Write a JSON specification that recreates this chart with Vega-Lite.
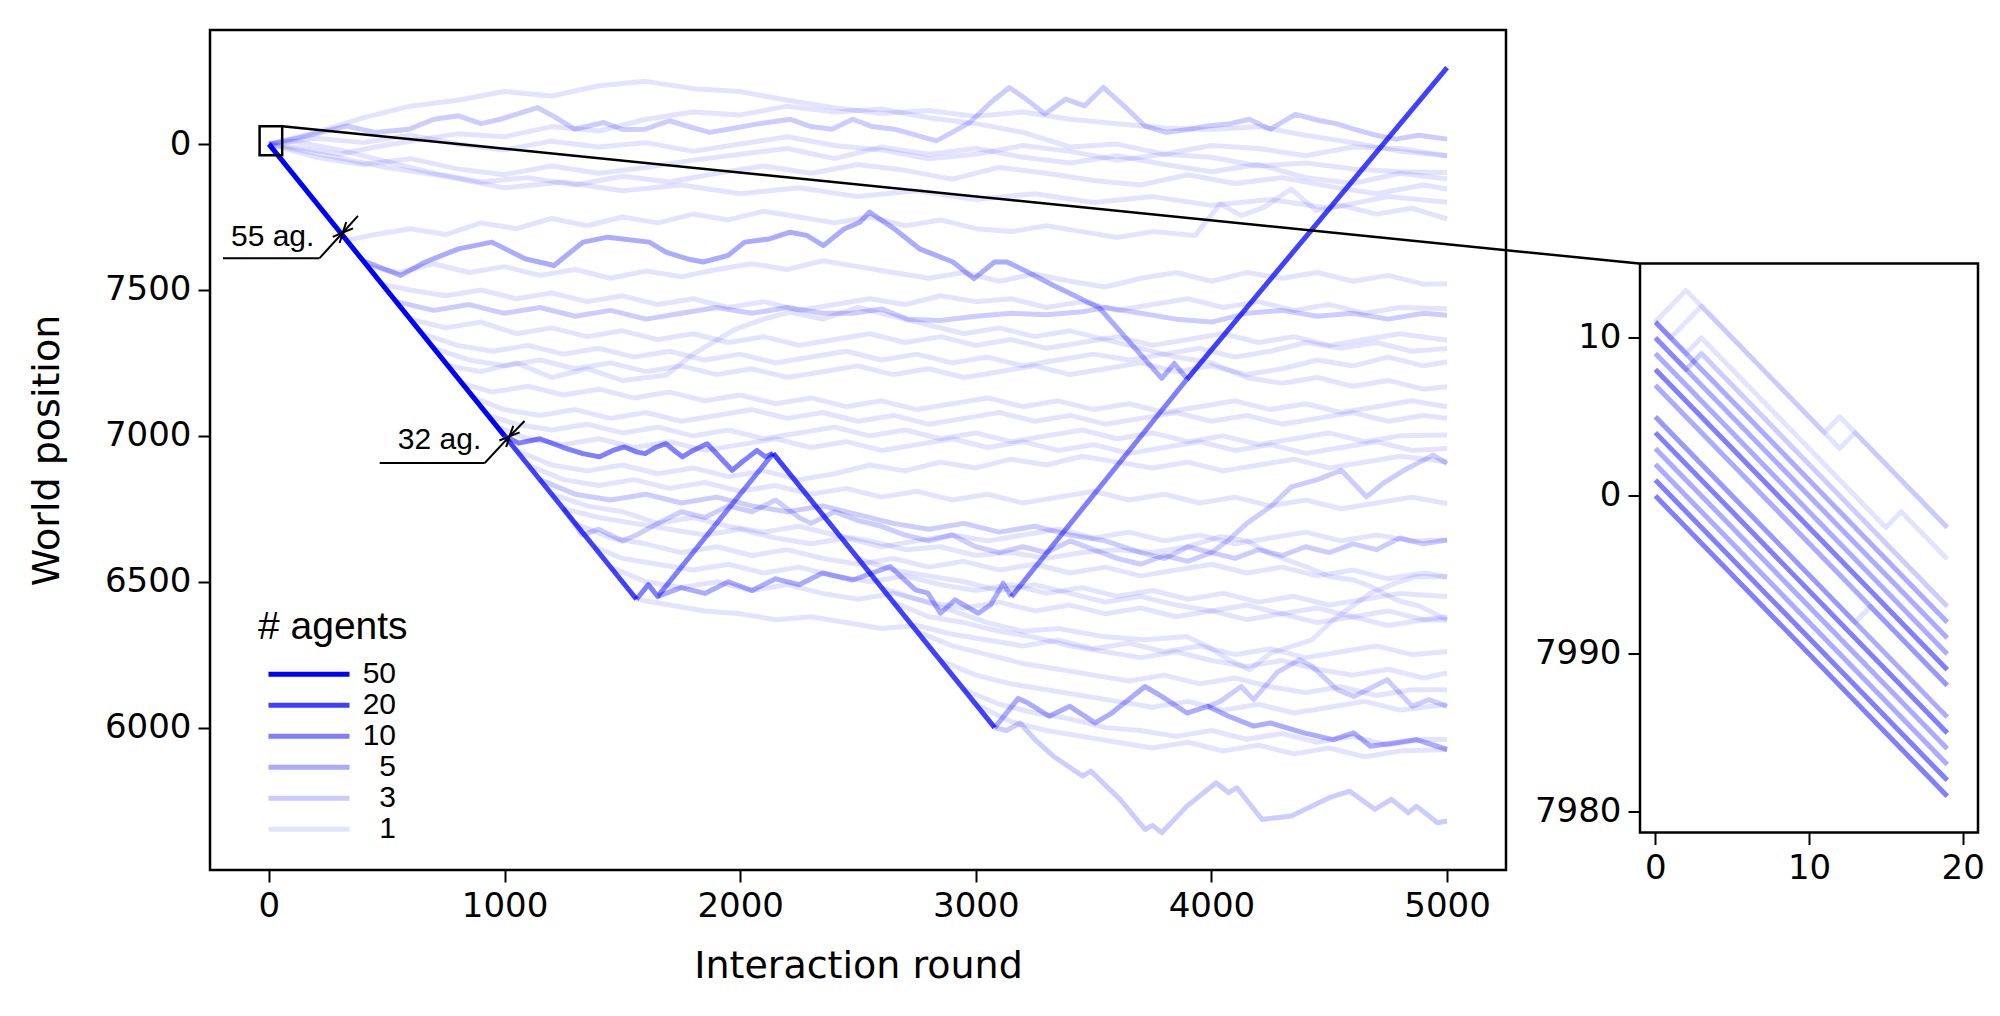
{
"$schema":"https://vega.github.io/schema/vega-lite/v6.json",
"background":"white",
"padding":{"left":27,"top":28,"right":5,"bottom":5},
"autosize":{"type":"pad"},
"bounds":"flush",
"spacing":134,
"config":{
 "font":"DejaVu Sans",
 "view":{"stroke":"black","strokeWidth":2.5},
 "axis":{"labelFont":"DejaVu Sans","titleFont":"DejaVu Sans","labelFontSize":34,"titleFontSize":38,"titleFontWeight":"normal","labelColor":"black","titleColor":"black","tickColor":"black","tickSize":12,"tickWidth":2,"domain":false,"grid":false,"labelPadding":7},
 "line":{"color":"#0000ff","strokeWidth":5,"strokeJoin":"round","strokeCap":"butt"}
},
"resolve":{"scale":{"opacity":"independent"},"legend":{"opacity":"independent"}},
"datasets":{
"main":[
{"i":"M1","n":50,"x":0,"y":8000},{"i":"M1","n":50,"x":1000,"y":7000},
{"i":"M2","n":20,"x":1000,"y":7000},{"i":"M2","n":20,"x":1560,"y":6440},
{"i":"M3","n":10,"x":1560,"y":6440},{"i":"M3","n":10,"x":1610,"y":6490},{"i":"M3","n":10,"x":1650,"y":6450},{"i":"M3","n":10,"x":2140,"y":6940},
{"i":"M4","n":10,"x":1000,"y":7000},{"i":"M4","n":10,"x":1060,"y":6975},{"i":"M4","n":10,"x":1150,"y":6990},{"i":"M4","n":10,"x":1250,"y":6960},{"i":"M4","n":10,"x":1333,"y":6939},{"i":"M4","n":10,"x":1403,"y":6928},{"i":"M4","n":10,"x":1460,"y":6950},{"i":"M4","n":10,"x":1509,"y":6962},{"i":"M4","n":10,"x":1560,"y":6945},{"i":"M4","n":10,"x":1597,"y":6939},{"i":"M4","n":10,"x":1640,"y":6960},{"i":"M4","n":10,"x":1685,"y":6973},{"i":"M4","n":10,"x":1720,"y":6950},{"i":"M4","n":10,"x":1755,"y":6928},{"i":"M4","n":10,"x":1800,"y":6950},{"i":"M4","n":10,"x":1860,"y":6973},{"i":"M4","n":10,"x":1910,"y":6930},{"i":"M4","n":10,"x":1966,"y":6882},{"i":"M4","n":10,"x":2000,"y":6905},{"i":"M4","n":10,"x":2036,"y":6928},{"i":"M4","n":10,"x":2071,"y":6950},{"i":"M4","n":10,"x":2107,"y":6928},{"i":"M4","n":10,"x":2140,"y":6940},
{"i":"M5","n":20,"x":2140,"y":6940},{"i":"M5","n":20,"x":3080,"y":6000},
{"i":"M6","n":5,"x":3080,"y":6000},{"i":"M6","n":5,"x":3180,"y":6100},{"i":"M6","n":5,"x":3222,"y":6084},{"i":"M6","n":5,"x":3311,"y":6039},{"i":"M6","n":5,"x":3399,"y":6073},{"i":"M6","n":5,"x":3506,"y":6016},{"i":"M6","n":5,"x":3577,"y":6050},{"i":"M6","n":5,"x":3718,"y":6141},{"i":"M6","n":5,"x":3789,"y":6107},{"i":"M6","n":5,"x":3896,"y":6050},{"i":"M6","n":5,"x":3984,"y":6073},{"i":"M6","n":5,"x":4073,"y":6039},{"i":"M6","n":5,"x":4179,"y":6005},{"i":"M6","n":5,"x":4250,"y":6016},{"i":"M6","n":5,"x":4392,"y":5982},{"i":"M6","n":5,"x":4516,"y":5959},{"i":"M6","n":5,"x":4604,"y":5982},{"i":"M6","n":5,"x":4675,"y":5936},{"i":"M6","n":5,"x":4782,"y":5948},{"i":"M6","n":5,"x":4870,"y":5959},{"i":"M6","n":5,"x":5000,"y":5925},
{"i":"M7","n":3,"x":3984,"y":6073},{"i":"M7","n":3,"x":4037,"y":6090},{"i":"M7","n":3,"x":4126,"y":6141},{"i":"M7","n":3,"x":4179,"y":6096},{"i":"M7","n":3,"x":4280,"y":6190},{"i":"M7","n":3,"x":4374,"y":6233},{"i":"M7","n":3,"x":4427,"y":6210},{"i":"M7","n":3,"x":4534,"y":6130},{"i":"M7","n":3,"x":4604,"y":6107},{"i":"M7","n":3,"x":4746,"y":6164},{"i":"M7","n":3,"x":4852,"y":6073},{"i":"M7","n":3,"x":4923,"y":6096},{"i":"M7","n":3,"x":5000,"y":6073},
{"i":"E","n":3,"x":3080,"y":6000},{"i":"E","n":3,"x":3130,"y":5990},{"i":"E","n":3,"x":3187,"y":6016},{"i":"E","n":3,"x":3250,"y":5960},{"i":"E","n":3,"x":3329,"y":5902},{"i":"E","n":3,"x":3453,"y":5834},{"i":"E","n":3,"x":3488,"y":5851},{"i":"E","n":3,"x":3612,"y":5754},{"i":"E","n":3,"x":3718,"y":5651},{"i":"E","n":3,"x":3750,"y":5665},{"i":"E","n":3,"x":3789,"y":5640},{"i":"E","n":3,"x":3896,"y":5731},{"i":"E","n":3,"x":4020,"y":5811},{"i":"E","n":3,"x":4073,"y":5777},{"i":"E","n":3,"x":4108,"y":5794},{"i":"E","n":3,"x":4215,"y":5685},{"i":"E","n":3,"x":4339,"y":5697},{"i":"E","n":3,"x":4427,"y":5731},{"i":"E","n":3,"x":4500,"y":5760},{"i":"E","n":3,"x":4587,"y":5782},{"i":"E","n":3,"x":4693,"y":5720},{"i":"E","n":3,"x":4764,"y":5754},{"i":"E","n":3,"x":4835,"y":5708},{"i":"E","n":3,"x":4870,"y":5731},{"i":"E","n":3,"x":4959,"y":5674},{"i":"E","n":3,"x":5000,"y":5680},
{"i":"L3","n":5,"x":400,"y":7600},{"i":"L3","n":5,"x":559,"y":7550},{"i":"L3","n":5,"x":664,"y":7596},{"i":"L3","n":5,"x":805,"y":7641},{"i":"L3","n":5,"x":946,"y":7664},{"i":"L3","n":5,"x":1087,"y":7607},{"i":"L3","n":5,"x":1210,"y":7584},{"i":"L3","n":5,"x":1245,"y":7607},{"i":"L3","n":5,"x":1333,"y":7664},{"i":"L3","n":5,"x":1438,"y":7681},{"i":"L3","n":5,"x":1614,"y":7664},{"i":"L3","n":5,"x":1685,"y":7630},{"i":"L3","n":5,"x":1773,"y":7607},{"i":"L3","n":5,"x":1843,"y":7596},{"i":"L3","n":5,"x":1948,"y":7618},{"i":"L3","n":5,"x":2019,"y":7664},{"i":"L3","n":5,"x":2124,"y":7675},{"i":"L3","n":5,"x":2212,"y":7698},{"i":"L3","n":5,"x":2283,"y":7687},{"i":"L3","n":5,"x":2353,"y":7652},{"i":"L3","n":5,"x":2441,"y":7709},{"i":"L3","n":5,"x":2508,"y":7732},{"i":"L3","n":5,"x":2549,"y":7767},{"i":"L3","n":5,"x":2655,"y":7709},{"i":"L3","n":5,"x":2761,"y":7641},{"i":"L3","n":5,"x":2903,"y":7596},{"i":"L3","n":5,"x":2992,"y":7539},{"i":"L3","n":5,"x":3080,"y":7596},{"i":"L3","n":5,"x":3133,"y":7596},{"i":"L3","n":5,"x":3222,"y":7561},{"i":"L3","n":5,"x":3328,"y":7516},{"i":"L3","n":5,"x":3505,"y":7447},{"i":"L3","n":5,"x":3523,"y":7440},{"i":"L3","n":5,"x":3789,"y":7197},{"i":"L3","n":5,"x":3842,"y":7248},{"i":"L3","n":5,"x":3895,"y":7197},
{"i":"L4","n":5,"x":1650,"y":6450},{"i":"L4","n":5,"x":1750,"y":6480},{"i":"L4","n":5,"x":1850,"y":6460},{"i":"L4","n":5,"x":1950,"y":6500},{"i":"L4","n":5,"x":2050,"y":6470},{"i":"L4","n":5,"x":2150,"y":6510},{"i":"L4","n":5,"x":2250,"y":6490},{"i":"L4","n":5,"x":2350,"y":6530},{"i":"L4","n":5,"x":2478,"y":6506},{"i":"L4","n":5,"x":2637,"y":6552},{"i":"L4","n":5,"x":2744,"y":6472},{"i":"L4","n":5,"x":2797,"y":6461},{"i":"L4","n":5,"x":2850,"y":6392},{"i":"L4","n":5,"x":2912,"y":6438},{"i":"L4","n":5,"x":3010,"y":6392},{"i":"L4","n":5,"x":3063,"y":6421},{"i":"L4","n":5,"x":3116,"y":6495},{"i":"L4","n":5,"x":3151,"y":6449},
{"i":"U1","n":10,"x":3151,"y":6449},{"i":"U1","n":10,"x":3895,"y":7193},
{"i":"U2","n":20,"x":3895,"y":7193},{"i":"U2","n":20,"x":5000,"y":8262},
{"i":"T1","n":3,"x":0,"y":8000},{"i":"T1","n":3,"x":120,"y":8020},{"i":"T1","n":3,"x":330,"y":8062},{"i":"T1","n":3,"x":450,"y":8040},{"i":"T1","n":3,"x":594,"y":8051},{"i":"T1","n":3,"x":700,"y":8085},{"i":"T1","n":3,"x":805,"y":8097},{"i":"T1","n":3,"x":900,"y":8070},{"i":"T1","n":3,"x":981,"y":8085},{"i":"T1","n":3,"x":1140,"y":8125},{"i":"T1","n":3,"x":1220,"y":8090},{"i":"T1","n":3,"x":1298,"y":8051},{"i":"T1","n":3,"x":1421,"y":8074},{"i":"T1","n":3,"x":1500,"y":8050},{"i":"T1","n":3,"x":1597,"y":8051},{"i":"T1","n":3,"x":1700,"y":8080},{"i":"T1","n":3,"x":1773,"y":8062},{"i":"T1","n":3,"x":1870,"y":8040},{"i":"T1","n":3,"x":1949,"y":8051},{"i":"T1","n":3,"x":2080,"y":8070},{"i":"T1","n":3,"x":2213,"y":8085},{"i":"T1","n":3,"x":2300,"y":8060},{"i":"T1","n":3,"x":2389,"y":8051},{"i":"T1","n":3,"x":2478,"y":8085},{"i":"T1","n":3,"x":2560,"y":8060},{"i":"T1","n":3,"x":2655,"y":8051},{"i":"T1","n":3,"x":2750,"y":8030},{"i":"T1","n":3,"x":2832,"y":8011},{"i":"T1","n":3,"x":2900,"y":8040},{"i":"T1","n":3,"x":2974,"y":8074},{"i":"T1","n":3,"x":3060,"y":8140},{"i":"T1","n":3,"x":3142,"y":8194},{"i":"T1","n":3,"x":3220,"y":8150},{"i":"T1","n":3,"x":3293,"y":8103},{"i":"T1","n":3,"x":3382,"y":8154},{"i":"T1","n":3,"x":3461,"y":8131},{"i":"T1","n":3,"x":3541,"y":8194},{"i":"T1","n":3,"x":3630,"y":8130},{"i":"T1","n":3,"x":3718,"y":8062},{"i":"T1","n":3,"x":3807,"y":8040},{"i":"T1","n":3,"x":3900,"y":8050},{"i":"T1","n":3,"x":3984,"y":8062},{"i":"T1","n":3,"x":4080,"y":8070},{"i":"T1","n":3,"x":4161,"y":8085},{"i":"T1","n":3,"x":4250,"y":8051},{"i":"T1","n":3,"x":4356,"y":8102},{"i":"T1","n":3,"x":4462,"y":8080},{"i":"T1","n":3,"x":4530,"y":8070},{"i":"T1","n":3,"x":4604,"y":8051},{"i":"T1","n":3,"x":4700,"y":8030},{"i":"T1","n":3,"x":4782,"y":8017},{"i":"T1","n":3,"x":4880,"y":8030},{"i":"T1","n":3,"x":5000,"y":8017},
{"i":"T2","n":1,"x":0,"y":8000},{"i":"T2","n":1,"x":200,"y":8040},{"i":"T2","n":1,"x":400,"y":8090},{"i":"T2","n":1,"x":600,"y":8130},{"i":"T2","n":1,"x":800,"y":8150},{"i":"T2","n":1,"x":1000,"y":8180},{"i":"T2","n":1,"x":1200,"y":8165},{"i":"T2","n":1,"x":1400,"y":8200},{"i":"T2","n":1,"x":1600,"y":8215},{"i":"T2","n":1,"x":1800,"y":8190},{"i":"T2","n":1,"x":2000,"y":8180},{"i":"T2","n":1,"x":2200,"y":8150},{"i":"T2","n":1,"x":2400,"y":8125},{"i":"T2","n":1,"x":2600,"y":8105},{"i":"T2","n":1,"x":2800,"y":8115},{"i":"T2","n":1,"x":3000,"y":8095},{"i":"T2","n":1,"x":3200,"y":8110},{"i":"T2","n":1,"x":3400,"y":8085},{"i":"T2","n":1,"x":3600,"y":8070},{"i":"T2","n":1,"x":3800,"y":8055},{"i":"T2","n":1,"x":4000,"y":8050},{"i":"T2","n":1,"x":4200,"y":8060},{"i":"T2","n":1,"x":4400,"y":8030},{"i":"T2","n":1,"x":4600,"y":8005},{"i":"T2","n":1,"x":4800,"y":7975},{"i":"T2","n":1,"x":5000,"y":7960},
{"i":"T3","n":1,"x":0,"y":8000},{"i":"T3","n":1,"x":150,"y":7985},{"i":"T3","n":1,"x":300,"y":7965},{"i":"T3","n":1,"x":450,"y":7990},{"i":"T3","n":1,"x":600,"y":8010},{"i":"T3","n":1,"x":800,"y":8035},{"i":"T3","n":1,"x":1000,"y":8025},{"i":"T3","n":1,"x":1200,"y":8060},{"i":"T3","n":1,"x":1400,"y":8045},{"i":"T3","n":1,"x":1600,"y":8085},{"i":"T3","n":1,"x":1800,"y":8110},{"i":"T3","n":1,"x":2000,"y":8100},{"i":"T3","n":1,"x":2200,"y":8130},{"i":"T3","n":1,"x":2400,"y":8110},{"i":"T3","n":1,"x":2600,"y":8120},{"i":"T3","n":1,"x":2800,"y":8090},{"i":"T3","n":1,"x":3000,"y":8070},{"i":"T3","n":1,"x":3200,"y":8040},{"i":"T3","n":1,"x":3400,"y":7990},{"i":"T3","n":1,"x":3600,"y":8000},{"i":"T3","n":1,"x":3800,"y":7965},{"i":"T3","n":1,"x":4000,"y":7955},{"i":"T3","n":1,"x":4200,"y":7925},{"i":"T3","n":1,"x":4400,"y":7935},{"i":"T3","n":1,"x":4600,"y":7915},{"i":"T3","n":1,"x":4800,"y":7905},{"i":"T3","n":1,"x":5000,"y":7903},
{"i":"T4","n":1,"x":0,"y":8000},{"i":"T4","n":1,"x":200,"y":7955},{"i":"T4","n":1,"x":400,"y":7930},{"i":"T4","n":1,"x":600,"y":7950},{"i":"T4","n":1,"x":800,"y":7915},{"i":"T4","n":1,"x":1000,"y":7895},{"i":"T4","n":1,"x":1200,"y":7925},{"i":"T4","n":1,"x":1400,"y":7900},{"i":"T4","n":1,"x":1600,"y":7920},{"i":"T4","n":1,"x":1800,"y":7945},{"i":"T4","n":1,"x":2000,"y":7965},{"i":"T4","n":1,"x":2200,"y":7985},{"i":"T4","n":1,"x":2400,"y":7950},{"i":"T4","n":1,"x":2600,"y":7990},{"i":"T4","n":1,"x":2800,"y":7965},{"i":"T4","n":1,"x":3000,"y":7985},{"i":"T4","n":1,"x":3200,"y":7955},{"i":"T4","n":1,"x":3400,"y":7935},{"i":"T4","n":1,"x":3600,"y":7960},{"i":"T4","n":1,"x":3800,"y":7930},{"i":"T4","n":1,"x":4000,"y":7905},{"i":"T4","n":1,"x":4200,"y":7930},{"i":"T4","n":1,"x":4400,"y":7885},{"i":"T4","n":1,"x":4600,"y":7865},{"i":"T4","n":1,"x":4800,"y":7900},{"i":"T4","n":1,"x":5000,"y":7880},
{"i":"T5","n":1,"x":0,"y":8000},{"i":"T5","n":1,"x":100,"y":8010},{"i":"T5","n":1,"x":300,"y":7980},{"i":"T5","n":1,"x":500,"y":7940},{"i":"T5","n":1,"x":700,"y":7900},{"i":"T5","n":1,"x":900,"y":7870},{"i":"T5","n":1,"x":1100,"y":7885},{"i":"T5","n":1,"x":1300,"y":7860},{"i":"T5","n":1,"x":1500,"y":7890},{"i":"T5","n":1,"x":1700,"y":7870},{"i":"T5","n":1,"x":1900,"y":7900},{"i":"T5","n":1,"x":2100,"y":7925},{"i":"T5","n":1,"x":2300,"y":7900},{"i":"T5","n":1,"x":2500,"y":7930},{"i":"T5","n":1,"x":2700,"y":7910},{"i":"T5","n":1,"x":2900,"y":7880},{"i":"T5","n":1,"x":3100,"y":7920},{"i":"T5","n":1,"x":3300,"y":7900},{"i":"T5","n":1,"x":3500,"y":7875},{"i":"T5","n":1,"x":3700,"y":7860},{"i":"T5","n":1,"x":3900,"y":7895},{"i":"T5","n":1,"x":4100,"y":7865},{"i":"T5","n":1,"x":4300,"y":7885},{"i":"T5","n":1,"x":4500,"y":7855},{"i":"T5","n":1,"x":4700,"y":7830},{"i":"T5","n":1,"x":4900,"y":7860},{"i":"T5","n":1,"x":5000,"y":7846},
{"i":"T6","n":1,"x":0,"y":8000},{"i":"T6","n":1,"x":200,"y":8020},{"i":"T6","n":1,"x":400,"y":8005},{"i":"T6","n":1,"x":600,"y":8030},{"i":"T6","n":1,"x":800,"y":8000},{"i":"T6","n":1,"x":1000,"y":7980},{"i":"T6","n":1,"x":1200,"y":8010},{"i":"T6","n":1,"x":1400,"y":7990},{"i":"T6","n":1,"x":1600,"y":8005},{"i":"T6","n":1,"x":1800,"y":7975},{"i":"T6","n":1,"x":2000,"y":8000},{"i":"T6","n":1,"x":2200,"y":8025},{"i":"T6","n":1,"x":2400,"y":7995},{"i":"T6","n":1,"x":2600,"y":7980},{"i":"T6","n":1,"x":2800,"y":7950},{"i":"T6","n":1,"x":3000,"y":7965},{"i":"T6","n":1,"x":3200,"y":7995},{"i":"T6","n":1,"x":3400,"y":7975},{"i":"T6","n":1,"x":3600,"y":7945},{"i":"T6","n":1,"x":3800,"y":7965},{"i":"T6","n":1,"x":4000,"y":7995},{"i":"T6","n":1,"x":4200,"y":7985},{"i":"T6","n":1,"x":4400,"y":7960},{"i":"T6","n":1,"x":4600,"y":7990},{"i":"T6","n":1,"x":4800,"y":7985},{"i":"T6","n":1,"x":5000,"y":7960},
{"i":"T7","n":1,"x":0,"y":8000},{"i":"T7","n":1,"x":250,"y":7960},{"i":"T7","n":1,"x":500,"y":7920},{"i":"T7","n":1,"x":750,"y":7890},{"i":"T7","n":1,"x":1000,"y":7850},{"i":"T7","n":1,"x":1250,"y":7870},{"i":"T7","n":1,"x":1500,"y":7840},{"i":"T7","n":1,"x":1750,"y":7860},{"i":"T7","n":1,"x":2000,"y":7830},{"i":"T7","n":1,"x":2250,"y":7850},{"i":"T7","n":1,"x":2500,"y":7820},{"i":"T7","n":1,"x":2750,"y":7840},{"i":"T7","n":1,"x":3000,"y":7810},{"i":"T7","n":1,"x":3250,"y":7830},{"i":"T7","n":1,"x":3500,"y":7800},{"i":"T7","n":1,"x":3750,"y":7820},{"i":"T7","n":1,"x":4000,"y":7790},{"i":"T7","n":1,"x":4250,"y":7810},{"i":"T7","n":1,"x":4500,"y":7780},{"i":"T7","n":1,"x":4750,"y":7820},{"i":"T7","n":1,"x":5000,"y":7801},
{"i":"B1","n":1,"x":330,"y":7670},{"i":"B1","n":1,"x":450,"y":7690},{"i":"B1","n":1,"x":600,"y":7710},{"i":"B1","n":1,"x":750,"y":7690},{"i":"B1","n":1,"x":900,"y":7730},{"i":"B1","n":1,"x":1050,"y":7710},{"i":"B1","n":1,"x":1200,"y":7745},{"i":"B1","n":1,"x":1350,"y":7720},{"i":"B1","n":1,"x":1500,"y":7750},{"i":"B1","n":1,"x":1650,"y":7730},{"i":"B1","n":1,"x":1800,"y":7760},{"i":"B1","n":1,"x":1950,"y":7740},{"i":"B1","n":1,"x":2100,"y":7770},{"i":"B1","n":1,"x":2250,"y":7750},{"i":"B1","n":1,"x":2400,"y":7730},{"i":"B1","n":1,"x":2550,"y":7750},{"i":"B1","n":1,"x":2700,"y":7720},{"i":"B1","n":1,"x":2850,"y":7740},{"i":"B1","n":1,"x":3000,"y":7710},{"i":"B1","n":1,"x":3150,"y":7700},{"i":"B1","n":1,"x":3300,"y":7720},{"i":"B1","n":1,"x":3450,"y":7700},{"i":"B1","n":1,"x":3600,"y":7680},{"i":"B1","n":1,"x":3750,"y":7700},{"i":"B1","n":1,"x":3931,"y":7687},{"i":"B1","n":1,"x":4037,"y":7795},{"i":"B1","n":1,"x":4126,"y":7755},{"i":"B1","n":1,"x":4223,"y":7783},{"i":"B1","n":1,"x":4338,"y":7846},{"i":"B1","n":1,"x":4445,"y":7772},{"i":"B1","n":1,"x":4550,"y":7790},{"i":"B1","n":1,"x":4700,"y":7760},{"i":"B1","n":1,"x":4850,"y":7780},{"i":"B1","n":1,"x":5000,"y":7744},
{"i":"B2","n":1,"x":420,"y":7580},{"i":"B2","n":1,"x":550,"y":7560},{"i":"B2","n":1,"x":700,"y":7590},{"i":"B2","n":1,"x":850,"y":7560},{"i":"B2","n":1,"x":1000,"y":7580},{"i":"B2","n":1,"x":1150,"y":7550},{"i":"B2","n":1,"x":1300,"y":7570},{"i":"B2","n":1,"x":1450,"y":7540},{"i":"B2","n":1,"x":1600,"y":7565},{"i":"B2","n":1,"x":1750,"y":7545},{"i":"B2","n":1,"x":1900,"y":7570},{"i":"B2","n":1,"x":2050,"y":7590},{"i":"B2","n":1,"x":2200,"y":7570},{"i":"B2","n":1,"x":2350,"y":7600},{"i":"B2","n":1,"x":2500,"y":7580},{"i":"B2","n":1,"x":2650,"y":7560},{"i":"B2","n":1,"x":2800,"y":7540},{"i":"B2","n":1,"x":2950,"y":7560},{"i":"B2","n":1,"x":3100,"y":7530},{"i":"B2","n":1,"x":3250,"y":7555},{"i":"B2","n":1,"x":3400,"y":7530},{"i":"B2","n":1,"x":3550,"y":7510},{"i":"B2","n":1,"x":3700,"y":7540},{"i":"B2","n":1,"x":3850,"y":7560},{"i":"B2","n":1,"x":4000,"y":7530},{"i":"B2","n":1,"x":4150,"y":7560},{"i":"B2","n":1,"x":4300,"y":7540},{"i":"B2","n":1,"x":4450,"y":7560},{"i":"B2","n":1,"x":4600,"y":7530},{"i":"B2","n":1,"x":4750,"y":7550},{"i":"B2","n":1,"x":4900,"y":7520},{"i":"B2","n":1,"x":5000,"y":7521},
{"i":"B3","n":1,"x":480,"y":7520},{"i":"B3","n":1,"x":600,"y":7500},{"i":"B3","n":1,"x":750,"y":7480},{"i":"B3","n":1,"x":900,"y":7500},{"i":"B3","n":1,"x":1050,"y":7470},{"i":"B3","n":1,"x":1200,"y":7490},{"i":"B3","n":1,"x":1350,"y":7460},{"i":"B3","n":1,"x":1500,"y":7480},{"i":"B3","n":1,"x":1650,"y":7450},{"i":"B3","n":1,"x":1800,"y":7470},{"i":"B3","n":1,"x":1950,"y":7440},{"i":"B3","n":1,"x":2100,"y":7460},{"i":"B3","n":1,"x":2250,"y":7430},{"i":"B3","n":1,"x":2400,"y":7450},{"i":"B3","n":1,"x":2550,"y":7470},{"i":"B3","n":1,"x":2700,"y":7450},{"i":"B3","n":1,"x":2850,"y":7480},{"i":"B3","n":1,"x":3000,"y":7460},{"i":"B3","n":1,"x":3150,"y":7470},{"i":"B3","n":1,"x":3300,"y":7440},{"i":"B3","n":1,"x":3450,"y":7460},{"i":"B3","n":1,"x":3600,"y":7430},{"i":"B3","n":1,"x":3750,"y":7450},{"i":"B3","n":1,"x":3900,"y":7470},{"i":"B3","n":1,"x":4050,"y":7440},{"i":"B3","n":1,"x":4200,"y":7460},{"i":"B3","n":1,"x":4350,"y":7430},{"i":"B3","n":1,"x":4500,"y":7450},{"i":"B3","n":1,"x":4650,"y":7420},{"i":"B3","n":1,"x":4800,"y":7440},{"i":"B3","n":1,"x":5000,"y":7436},
{"i":"B4","n":3,"x":540,"y":7460},{"i":"B4","n":3,"x":700,"y":7430},{"i":"B4","n":3,"x":850,"y":7450},{"i":"B4","n":3,"x":1000,"y":7420},{"i":"B4","n":3,"x":1150,"y":7440},{"i":"B4","n":3,"x":1300,"y":7410},{"i":"B4","n":3,"x":1450,"y":7430},{"i":"B4","n":3,"x":1600,"y":7400},{"i":"B4","n":3,"x":1750,"y":7420},{"i":"B4","n":3,"x":1900,"y":7440},{"i":"B4","n":3,"x":2050,"y":7420},{"i":"B4","n":3,"x":2200,"y":7440},{"i":"B4","n":3,"x":2350,"y":7420},{"i":"B4","n":3,"x":2478,"y":7420},{"i":"B4","n":3,"x":2600,"y":7435},{"i":"B4","n":3,"x":2710,"y":7400},{"i":"B4","n":3,"x":2850,"y":7395},{"i":"B4","n":3,"x":3000,"y":7410},{"i":"B4","n":3,"x":3150,"y":7420},{"i":"B4","n":3,"x":3300,"y":7415},{"i":"B4","n":3,"x":3450,"y":7425},{"i":"B4","n":3,"x":3550,"y":7440},{"i":"B4","n":3,"x":3700,"y":7420},{"i":"B4","n":3,"x":3850,"y":7400},{"i":"B4","n":3,"x":4000,"y":7390},{"i":"B4","n":3,"x":4150,"y":7420},{"i":"B4","n":3,"x":4300,"y":7430},{"i":"B4","n":3,"x":4450,"y":7410},{"i":"B4","n":3,"x":4600,"y":7420},{"i":"B4","n":3,"x":4750,"y":7400},{"i":"B4","n":3,"x":4900,"y":7420},{"i":"B4","n":3,"x":5000,"y":7413},
{"i":"B5","n":1,"x":600,"y":7400},{"i":"B5","n":1,"x":750,"y":7370},{"i":"B5","n":1,"x":900,"y":7390},{"i":"B5","n":1,"x":1050,"y":7350},{"i":"B5","n":1,"x":1200,"y":7370},{"i":"B5","n":1,"x":1350,"y":7340},{"i":"B5","n":1,"x":1500,"y":7360},{"i":"B5","n":1,"x":1650,"y":7330},{"i":"B5","n":1,"x":1800,"y":7350},{"i":"B5","n":1,"x":1950,"y":7320},{"i":"B5","n":1,"x":2100,"y":7340},{"i":"B5","n":1,"x":2250,"y":7310},{"i":"B5","n":1,"x":2400,"y":7330},{"i":"B5","n":1,"x":2550,"y":7350},{"i":"B5","n":1,"x":2700,"y":7320},{"i":"B5","n":1,"x":2850,"y":7340},{"i":"B5","n":1,"x":3000,"y":7310},{"i":"B5","n":1,"x":3150,"y":7330},{"i":"B5","n":1,"x":3300,"y":7300},{"i":"B5","n":1,"x":3450,"y":7320},{"i":"B5","n":1,"x":3600,"y":7340},{"i":"B5","n":1,"x":3750,"y":7310},{"i":"B5","n":1,"x":3900,"y":7330},{"i":"B5","n":1,"x":4050,"y":7350},{"i":"B5","n":1,"x":4200,"y":7320},{"i":"B5","n":1,"x":4350,"y":7340},{"i":"B5","n":1,"x":4500,"y":7310},{"i":"B5","n":1,"x":4650,"y":7330},{"i":"B5","n":1,"x":4800,"y":7350},{"i":"B5","n":1,"x":5000,"y":7328},
{"i":"B6","n":1,"x":650,"y":7350},{"i":"B6","n":1,"x":800,"y":7310},{"i":"B6","n":1,"x":950,"y":7290},{"i":"B6","n":1,"x":1100,"y":7310},{"i":"B6","n":1,"x":1250,"y":7280},{"i":"B6","n":1,"x":1400,"y":7300},{"i":"B6","n":1,"x":1550,"y":7270},{"i":"B6","n":1,"x":1700,"y":7290},{"i":"B6","n":1,"x":1850,"y":7260},{"i":"B6","n":1,"x":2000,"y":7280},{"i":"B6","n":1,"x":2150,"y":7250},{"i":"B6","n":1,"x":2300,"y":7270},{"i":"B6","n":1,"x":2450,"y":7290},{"i":"B6","n":1,"x":2600,"y":7260},{"i":"B6","n":1,"x":2750,"y":7280},{"i":"B6","n":1,"x":2900,"y":7250},{"i":"B6","n":1,"x":3050,"y":7270},{"i":"B6","n":1,"x":3200,"y":7240},{"i":"B6","n":1,"x":3350,"y":7260},{"i":"B6","n":1,"x":3500,"y":7280},{"i":"B6","n":1,"x":3650,"y":7260},{"i":"B6","n":1,"x":3800,"y":7280},{"i":"B6","n":1,"x":3950,"y":7300},{"i":"B6","n":1,"x":4100,"y":7270},{"i":"B6","n":1,"x":4250,"y":7290},{"i":"B6","n":1,"x":4400,"y":7320},{"i":"B6","n":1,"x":4550,"y":7300},{"i":"B6","n":1,"x":4700,"y":7320},{"i":"B6","n":1,"x":4850,"y":7290},{"i":"B6","n":1,"x":5000,"y":7299},
{"i":"B7","n":1,"x":700,"y":7300},{"i":"B7","n":1,"x":850,"y":7260},{"i":"B7","n":1,"x":1000,"y":7240},{"i":"B7","n":1,"x":1150,"y":7260},{"i":"B7","n":1,"x":1300,"y":7230},{"i":"B7","n":1,"x":1450,"y":7250},{"i":"B7","n":1,"x":1600,"y":7220},{"i":"B7","n":1,"x":1750,"y":7240},{"i":"B7","n":1,"x":1900,"y":7210},{"i":"B7","n":1,"x":2050,"y":7230},{"i":"B7","n":1,"x":2200,"y":7200},{"i":"B7","n":1,"x":2350,"y":7220},{"i":"B7","n":1,"x":2500,"y":7240},{"i":"B7","n":1,"x":2650,"y":7210},{"i":"B7","n":1,"x":2800,"y":7230},{"i":"B7","n":1,"x":2950,"y":7200},{"i":"B7","n":1,"x":3100,"y":7220},{"i":"B7","n":1,"x":3250,"y":7240},{"i":"B7","n":1,"x":3400,"y":7210},{"i":"B7","n":1,"x":3550,"y":7230},{"i":"B7","n":1,"x":3700,"y":7250},{"i":"B7","n":1,"x":3850,"y":7220},{"i":"B7","n":1,"x":4000,"y":7240},{"i":"B7","n":1,"x":4150,"y":7210},{"i":"B7","n":1,"x":4300,"y":7230},{"i":"B7","n":1,"x":4450,"y":7260},{"i":"B7","n":1,"x":4600,"y":7240},{"i":"B7","n":1,"x":4750,"y":7270},{"i":"B7","n":1,"x":4900,"y":7240},{"i":"B7","n":1,"x":5000,"y":7254},
{"i":"B8","n":1,"x":760,"y":7240},{"i":"B8","n":1,"x":900,"y":7220},{"i":"B8","n":1,"x":1050,"y":7250},{"i":"B8","n":1,"x":1200,"y":7200},{"i":"B8","n":1,"x":1350,"y":7230},{"i":"B8","n":1,"x":1500,"y":7190},{"i":"B8","n":1,"x":1685,"y":7208},{"i":"B8","n":1,"x":1800,"y":7280},{"i":"B8","n":1,"x":1983,"y":7367},{"i":"B8","n":1,"x":2100,"y":7400},{"i":"B8","n":1,"x":2213,"y":7424},{"i":"B8","n":1,"x":2350,"y":7400},{"i":"B8","n":1,"x":2500,"y":7440},{"i":"B8","n":1,"x":2650,"y":7410},{"i":"B8","n":1,"x":2800,"y":7380},{"i":"B8","n":1,"x":2950,"y":7350},{"i":"B8","n":1,"x":3100,"y":7370},{"i":"B8","n":1,"x":3250,"y":7340},{"i":"B8","n":1,"x":3400,"y":7360},{"i":"B8","n":1,"x":3550,"y":7330},{"i":"B8","n":1,"x":3700,"y":7300},{"i":"B8","n":1,"x":3850,"y":7270},{"i":"B8","n":1,"x":4000,"y":7250},{"i":"B8","n":1,"x":4150,"y":7200},{"i":"B8","n":1,"x":4300,"y":7180},{"i":"B8","n":1,"x":4450,"y":7200},{"i":"B8","n":1,"x":4600,"y":7170},{"i":"B8","n":1,"x":4750,"y":7190},{"i":"B8","n":1,"x":4900,"y":7160},{"i":"B8","n":1,"x":5000,"y":7168},
{"i":"B9","n":1,"x":820,"y":7180},{"i":"B9","n":1,"x":950,"y":7150},{"i":"B9","n":1,"x":1100,"y":7170},{"i":"B9","n":1,"x":1250,"y":7140},{"i":"B9","n":1,"x":1400,"y":7160},{"i":"B9","n":1,"x":1550,"y":7130},{"i":"B9","n":1,"x":1700,"y":7150},{"i":"B9","n":1,"x":1850,"y":7120},{"i":"B9","n":1,"x":2000,"y":7140},{"i":"B9","n":1,"x":2150,"y":7110},{"i":"B9","n":1,"x":2300,"y":7130},{"i":"B9","n":1,"x":2450,"y":7100},{"i":"B9","n":1,"x":2600,"y":7120},{"i":"B9","n":1,"x":2750,"y":7090},{"i":"B9","n":1,"x":2900,"y":7110},{"i":"B9","n":1,"x":3050,"y":7130},{"i":"B9","n":1,"x":3200,"y":7100},{"i":"B9","n":1,"x":3350,"y":7120},{"i":"B9","n":1,"x":3500,"y":7090},{"i":"B9","n":1,"x":3650,"y":7110},{"i":"B9","n":1,"x":3800,"y":7080},{"i":"B9","n":1,"x":3950,"y":7100},{"i":"B9","n":1,"x":4100,"y":7120},{"i":"B9","n":1,"x":4250,"y":7090},{"i":"B9","n":1,"x":4400,"y":7110},{"i":"B9","n":1,"x":4550,"y":7080},{"i":"B9","n":1,"x":4700,"y":7100},{"i":"B9","n":1,"x":4850,"y":7120},{"i":"B9","n":1,"x":5000,"y":7100},
{"i":"B10","n":1,"x":870,"y":7130},{"i":"B10","n":1,"x":1000,"y":7090},{"i":"B10","n":1,"x":1150,"y":7070},{"i":"B10","n":1,"x":1300,"y":7090},{"i":"B10","n":1,"x":1450,"y":7060},{"i":"B10","n":1,"x":1600,"y":7080},{"i":"B10","n":1,"x":1750,"y":7050},{"i":"B10","n":1,"x":1900,"y":7070},{"i":"B10","n":1,"x":2050,"y":7090},{"i":"B10","n":1,"x":2200,"y":7060},{"i":"B10","n":1,"x":2350,"y":7080},{"i":"B10","n":1,"x":2500,"y":7050},{"i":"B10","n":1,"x":2650,"y":7070},{"i":"B10","n":1,"x":2800,"y":7040},{"i":"B10","n":1,"x":2950,"y":7060},{"i":"B10","n":1,"x":3100,"y":7080},{"i":"B10","n":1,"x":3250,"y":7050},{"i":"B10","n":1,"x":3400,"y":7070},{"i":"B10","n":1,"x":3550,"y":7040},{"i":"B10","n":1,"x":3700,"y":7060},{"i":"B10","n":1,"x":3850,"y":7080},{"i":"B10","n":1,"x":4000,"y":7050},{"i":"B10","n":1,"x":4150,"y":7070},{"i":"B10","n":1,"x":4300,"y":7040},{"i":"B10","n":1,"x":4450,"y":7060},{"i":"B10","n":1,"x":4600,"y":7080},{"i":"B10","n":1,"x":4750,"y":7050},{"i":"B10","n":1,"x":4900,"y":7070},{"i":"B10","n":1,"x":5000,"y":7060},
{"i":"B11","n":1,"x":930,"y":7070},{"i":"B11","n":1,"x":1050,"y":7040},{"i":"B11","n":1,"x":1200,"y":7020},{"i":"B11","n":1,"x":1350,"y":7040},{"i":"B11","n":1,"x":1500,"y":7010},{"i":"B11","n":1,"x":1650,"y":7030},{"i":"B11","n":1,"x":1800,"y":7000},{"i":"B11","n":1,"x":1950,"y":7020},{"i":"B11","n":1,"x":2100,"y":6990},{"i":"B11","n":1,"x":2250,"y":7010},{"i":"B11","n":1,"x":2400,"y":7030},{"i":"B11","n":1,"x":2550,"y":7000},{"i":"B11","n":1,"x":2700,"y":7020},{"i":"B11","n":1,"x":2850,"y":6990},{"i":"B11","n":1,"x":3000,"y":7010},{"i":"B11","n":1,"x":3150,"y":6980},{"i":"B11","n":1,"x":3300,"y":7000},{"i":"B11","n":1,"x":3450,"y":7020},{"i":"B11","n":1,"x":3600,"y":6990},{"i":"B11","n":1,"x":3750,"y":7010},{"i":"B11","n":1,"x":3900,"y":6980},{"i":"B11","n":1,"x":4050,"y":7000},{"i":"B11","n":1,"x":4200,"y":6970},{"i":"B11","n":1,"x":4350,"y":6990},{"i":"B11","n":1,"x":4500,"y":7010},{"i":"B11","n":1,"x":4650,"y":6980},{"i":"B11","n":1,"x":4800,"y":7000},{"i":"B11","n":1,"x":5000,"y":7003},
{"i":"B12","n":1,"x":970,"y":7030},{"i":"B12","n":1,"x":1100,"y":6990},{"i":"B12","n":1,"x":1250,"y":6970},{"i":"B12","n":1,"x":1400,"y":6990},{"i":"B12","n":1,"x":1550,"y":6960},{"i":"B12","n":1,"x":1700,"y":6980},{"i":"B12","n":1,"x":1850,"y":6950},{"i":"B12","n":1,"x":2000,"y":6970},{"i":"B12","n":1,"x":2150,"y":6990},{"i":"B12","n":1,"x":2300,"y":6960},{"i":"B12","n":1,"x":2450,"y":6980},{"i":"B12","n":1,"x":2600,"y":6950},{"i":"B12","n":1,"x":2750,"y":6970},{"i":"B12","n":1,"x":2900,"y":6990},{"i":"B12","n":1,"x":3050,"y":6960},{"i":"B12","n":1,"x":3200,"y":6980},{"i":"B12","n":1,"x":3350,"y":6950},{"i":"B12","n":1,"x":3500,"y":6970},{"i":"B12","n":1,"x":3650,"y":6940},{"i":"B12","n":1,"x":3800,"y":6960},{"i":"B12","n":1,"x":3950,"y":6980},{"i":"B12","n":1,"x":4100,"y":6950},{"i":"B12","n":1,"x":4250,"y":6970},{"i":"B12","n":1,"x":4400,"y":6940},{"i":"B12","n":1,"x":4550,"y":6960},{"i":"B12","n":1,"x":4700,"y":6980},{"i":"B12","n":1,"x":4850,"y":6950},{"i":"B12","n":1,"x":5000,"y":6957},
{"i":"C1","n":1,"x":1050,"y":6950},{"i":"C1","n":1,"x":1200,"y":6900},{"i":"C1","n":1,"x":1350,"y":6880},{"i":"C1","n":1,"x":1500,"y":6900},{"i":"C1","n":1,"x":1650,"y":6870},{"i":"C1","n":1,"x":1800,"y":6890},{"i":"C1","n":1,"x":1950,"y":6860},{"i":"C1","n":1,"x":2100,"y":6880},{"i":"C1","n":1,"x":2250,"y":6850},{"i":"C1","n":1,"x":2400,"y":6870},{"i":"C1","n":1,"x":2550,"y":6900},{"i":"C1","n":1,"x":2700,"y":6880},{"i":"C1","n":1,"x":2850,"y":6910},{"i":"C1","n":1,"x":3000,"y":6890},{"i":"C1","n":1,"x":3150,"y":6920},{"i":"C1","n":1,"x":3300,"y":6900},{"i":"C1","n":1,"x":3450,"y":6930},{"i":"C1","n":1,"x":3600,"y":6910},{"i":"C1","n":1,"x":3750,"y":6890},{"i":"C1","n":1,"x":3900,"y":6910},{"i":"C1","n":1,"x":4050,"y":6880},{"i":"C1","n":1,"x":4200,"y":6900},{"i":"C1","n":1,"x":4350,"y":6920},{"i":"C1","n":1,"x":4500,"y":6890},{"i":"C1","n":1,"x":4650,"y":6910},{"i":"C1","n":1,"x":4800,"y":6930},{"i":"C1","n":1,"x":5000,"y":6911},
{"i":"C2","n":1,"x":1100,"y":6900},{"i":"C2","n":1,"x":1250,"y":6850},{"i":"C2","n":1,"x":1400,"y":6830},{"i":"C2","n":1,"x":1550,"y":6850},{"i":"C2","n":1,"x":1700,"y":6820},{"i":"C2","n":1,"x":1850,"y":6840},{"i":"C2","n":1,"x":2000,"y":6810},{"i":"C2","n":1,"x":2150,"y":6830},{"i":"C2","n":1,"x":2300,"y":6800},{"i":"C2","n":1,"x":2450,"y":6820},{"i":"C2","n":1,"x":2600,"y":6790},{"i":"C2","n":1,"x":2750,"y":6810},{"i":"C2","n":1,"x":2900,"y":6780},{"i":"C2","n":1,"x":3050,"y":6800},{"i":"C2","n":1,"x":3200,"y":6770},{"i":"C2","n":1,"x":3350,"y":6790},{"i":"C2","n":1,"x":3500,"y":6810},{"i":"C2","n":1,"x":3650,"y":6780},{"i":"C2","n":1,"x":3800,"y":6800},{"i":"C2","n":1,"x":3950,"y":6770},{"i":"C2","n":1,"x":4100,"y":6790},{"i":"C2","n":1,"x":4250,"y":6760},{"i":"C2","n":1,"x":4400,"y":6780},{"i":"C2","n":1,"x":4550,"y":6750},{"i":"C2","n":1,"x":4700,"y":6770},{"i":"C2","n":1,"x":4850,"y":6790},{"i":"C2","n":1,"x":5000,"y":6768},
{"i":"C3","n":3,"x":1150,"y":6850},{"i":"C3","n":3,"x":1300,"y":6800},{"i":"C3","n":3,"x":1450,"y":6780},{"i":"C3","n":3,"x":1600,"y":6800},{"i":"C3","n":3,"x":1750,"y":6770},{"i":"C3","n":3,"x":1900,"y":6790},{"i":"C3","n":3,"x":2050,"y":6760},{"i":"C3","n":3,"x":2200,"y":6740},{"i":"C3","n":3,"x":2350,"y":6760},{"i":"C3","n":3,"x":2500,"y":6730},{"i":"C3","n":3,"x":2650,"y":6700},{"i":"C3","n":3,"x":2800,"y":6680},{"i":"C3","n":3,"x":2950,"y":6700},{"i":"C3","n":3,"x":3100,"y":6670},{"i":"C3","n":3,"x":3250,"y":6690},{"i":"C3","n":3,"x":3400,"y":6660},{"i":"C3","n":3,"x":3550,"y":6640},{"i":"C3","n":3,"x":3700,"y":6600},{"i":"C3","n":3,"x":3800,"y":6580},{"i":"C3","n":3,"x":3900,"y":6620},{"i":"C3","n":3,"x":4000,"y":6600},{"i":"C3","n":3,"x":4073,"y":6643},{"i":"C3","n":3,"x":4150,"y":6700},{"i":"C3","n":3,"x":4250,"y":6757},{"i":"C3","n":3,"x":4339,"y":6825},{"i":"C3","n":3,"x":4450,"y":6850},{"i":"C3","n":3,"x":4551,"y":6882},{"i":"C3","n":3,"x":4658,"y":6791},{"i":"C3","n":3,"x":4728,"y":6837},{"i":"C3","n":3,"x":4817,"y":6882},{"i":"C3","n":3,"x":4941,"y":6934},{"i":"C3","n":3,"x":5000,"y":6905},
{"i":"C4","n":1,"x":1200,"y":6800},{"i":"C4","n":1,"x":1350,"y":6760},{"i":"C4","n":1,"x":1500,"y":6740},{"i":"C4","n":1,"x":1650,"y":6700},{"i":"C4","n":1,"x":1800,"y":6720},{"i":"C4","n":1,"x":1950,"y":6690},{"i":"C4","n":1,"x":2100,"y":6670},{"i":"C4","n":1,"x":2250,"y":6690},{"i":"C4","n":1,"x":2400,"y":6660},{"i":"C4","n":1,"x":2550,"y":6640},{"i":"C4","n":1,"x":2700,"y":6610},{"i":"C4","n":1,"x":2850,"y":6620},{"i":"C4","n":1,"x":3000,"y":6590},{"i":"C4","n":1,"x":3150,"y":6600},{"i":"C4","n":1,"x":3300,"y":6580},{"i":"C4","n":1,"x":3450,"y":6600},{"i":"C4","n":1,"x":3600,"y":6610},{"i":"C4","n":1,"x":3750,"y":6600},{"i":"C4","n":1,"x":3900,"y":6620},{"i":"C4","n":1,"x":4037,"y":6655},{"i":"C4","n":1,"x":4150,"y":6640},{"i":"C4","n":1,"x":4250,"y":6595},{"i":"C4","n":1,"x":4400,"y":6552},{"i":"C4","n":1,"x":4500,"y":6518},{"i":"C4","n":1,"x":4604,"y":6506},{"i":"C4","n":1,"x":4675,"y":6484},{"i":"C4","n":1,"x":4782,"y":6438},{"i":"C4","n":1,"x":4888,"y":6415},{"i":"C4","n":1,"x":5000,"y":6369},
{"i":"C5","n":1,"x":2600,"y":6480},{"i":"C5","n":1,"x":2750,"y":6440},{"i":"C5","n":1,"x":2900,"y":6400},{"i":"C5","n":1,"x":3050,"y":6360},{"i":"C5","n":1,"x":3200,"y":6330},{"i":"C5","n":1,"x":3350,"y":6340},{"i":"C5","n":1,"x":3541,"y":6312},{"i":"C5","n":1,"x":3718,"y":6301},{"i":"C5","n":1,"x":3896,"y":6312},{"i":"C5","n":1,"x":3984,"y":6278},{"i":"C5","n":1,"x":4073,"y":6233},{"i":"C5","n":1,"x":4161,"y":6198},{"i":"C5","n":1,"x":4250,"y":6255},{"i":"C5","n":1,"x":4427,"y":6301},{"i":"C5","n":1,"x":4516,"y":6369},{"i":"C5","n":1,"x":4675,"y":6461},{"i":"C5","n":1,"x":4782,"y":6495},{"i":"C5","n":1,"x":4870,"y":6518},{"i":"C5","n":1,"x":5000,"y":6517},
{"i":"C6","n":1,"x":1250,"y":6750},{"i":"C6","n":1,"x":1400,"y":6720},{"i":"C6","n":1,"x":1550,"y":6700},{"i":"C6","n":1,"x":1700,"y":6680},{"i":"C6","n":1,"x":1850,"y":6660},{"i":"C6","n":1,"x":2000,"y":6680},{"i":"C6","n":1,"x":2150,"y":6650},{"i":"C6","n":1,"x":2300,"y":6630},{"i":"C6","n":1,"x":2450,"y":6650},{"i":"C6","n":1,"x":2600,"y":6620},{"i":"C6","n":1,"x":2750,"y":6640},{"i":"C6","n":1,"x":2900,"y":6660},{"i":"C6","n":1,"x":3050,"y":6640},{"i":"C6","n":1,"x":3200,"y":6660},{"i":"C6","n":1,"x":3350,"y":6680},{"i":"C6","n":1,"x":3500,"y":6650},{"i":"C6","n":1,"x":3650,"y":6670},{"i":"C6","n":1,"x":3800,"y":6640},{"i":"C6","n":1,"x":3950,"y":6660},{"i":"C6","n":1,"x":4100,"y":6630},{"i":"C6","n":1,"x":4250,"y":6650},{"i":"C6","n":1,"x":4400,"y":6670},{"i":"C6","n":1,"x":4550,"y":6640},{"i":"C6","n":1,"x":4700,"y":6660},{"i":"C6","n":1,"x":4850,"y":6640},{"i":"C6","n":1,"x":5000,"y":6643},
{"i":"C7","n":1,"x":1300,"y":6700},{"i":"C7","n":1,"x":1450,"y":6650},{"i":"C7","n":1,"x":1600,"y":6630},{"i":"C7","n":1,"x":1750,"y":6600},{"i":"C7","n":1,"x":1900,"y":6620},{"i":"C7","n":1,"x":2050,"y":6590},{"i":"C7","n":1,"x":2200,"y":6610},{"i":"C7","n":1,"x":2350,"y":6580},{"i":"C7","n":1,"x":2500,"y":6560},{"i":"C7","n":1,"x":2650,"y":6580},{"i":"C7","n":1,"x":2800,"y":6550},{"i":"C7","n":1,"x":2950,"y":6570},{"i":"C7","n":1,"x":3100,"y":6540},{"i":"C7","n":1,"x":3250,"y":6560},{"i":"C7","n":1,"x":3400,"y":6530},{"i":"C7","n":1,"x":3550,"y":6550},{"i":"C7","n":1,"x":3700,"y":6520},{"i":"C7","n":1,"x":3850,"y":6540},{"i":"C7","n":1,"x":4000,"y":6560},{"i":"C7","n":1,"x":4150,"y":6530},{"i":"C7","n":1,"x":4300,"y":6550},{"i":"C7","n":1,"x":4450,"y":6520},{"i":"C7","n":1,"x":4600,"y":6540},{"i":"C7","n":1,"x":4750,"y":6510},{"i":"C7","n":1,"x":4900,"y":6530},{"i":"C7","n":1,"x":5000,"y":6517},
{"i":"C8","n":1,"x":1380,"y":6620},{"i":"C8","n":1,"x":1500,"y":6580},{"i":"C8","n":1,"x":1650,"y":6560},{"i":"C8","n":1,"x":1800,"y":6540},{"i":"C8","n":1,"x":1950,"y":6560},{"i":"C8","n":1,"x":2100,"y":6530},{"i":"C8","n":1,"x":2250,"y":6550},{"i":"C8","n":1,"x":2400,"y":6520},{"i":"C8","n":1,"x":2550,"y":6500},{"i":"C8","n":1,"x":2700,"y":6520},{"i":"C8","n":1,"x":2850,"y":6490},{"i":"C8","n":1,"x":3000,"y":6470},{"i":"C8","n":1,"x":3150,"y":6490},{"i":"C8","n":1,"x":3300,"y":6460},{"i":"C8","n":1,"x":3450,"y":6480},{"i":"C8","n":1,"x":3600,"y":6450},{"i":"C8","n":1,"x":3750,"y":6470},{"i":"C8","n":1,"x":3900,"y":6440},{"i":"C8","n":1,"x":4050,"y":6460},{"i":"C8","n":1,"x":4200,"y":6430},{"i":"C8","n":1,"x":4350,"y":6450},{"i":"C8","n":1,"x":4500,"y":6420},{"i":"C8","n":1,"x":4650,"y":6440},{"i":"C8","n":1,"x":4800,"y":6460},{"i":"C8","n":1,"x":5000,"y":6449},
{"i":"C9","n":1,"x":1450,"y":6550},{"i":"C9","n":1,"x":1600,"y":6500},{"i":"C9","n":1,"x":1750,"y":6480},{"i":"C9","n":1,"x":1900,"y":6500},{"i":"C9","n":1,"x":2050,"y":6470},{"i":"C9","n":1,"x":2200,"y":6490},{"i":"C9","n":1,"x":2350,"y":6460},{"i":"C9","n":1,"x":2500,"y":6440},{"i":"C9","n":1,"x":2650,"y":6460},{"i":"C9","n":1,"x":2800,"y":6430},{"i":"C9","n":1,"x":2950,"y":6410},{"i":"C9","n":1,"x":3100,"y":6430},{"i":"C9","n":1,"x":3250,"y":6400},{"i":"C9","n":1,"x":3400,"y":6420},{"i":"C9","n":1,"x":3550,"y":6390},{"i":"C9","n":1,"x":3700,"y":6410},{"i":"C9","n":1,"x":3850,"y":6380},{"i":"C9","n":1,"x":4000,"y":6400},{"i":"C9","n":1,"x":4150,"y":6370},{"i":"C9","n":1,"x":4300,"y":6390},{"i":"C9","n":1,"x":4450,"y":6360},{"i":"C9","n":1,"x":4600,"y":6380},{"i":"C9","n":1,"x":4750,"y":6350},{"i":"C9","n":1,"x":4900,"y":6370},{"i":"C9","n":1,"x":5000,"y":6369},
{"i":"C10","n":1,"x":1560,"y":6440},{"i":"C10","n":1,"x":1700,"y":6420},{"i":"C10","n":1,"x":1850,"y":6400},{"i":"C10","n":1,"x":2000,"y":6390},{"i":"C10","n":1,"x":2150,"y":6370},{"i":"C10","n":1,"x":2300,"y":6380},{"i":"C10","n":1,"x":2450,"y":6360},{"i":"C10","n":1,"x":2600,"y":6340},{"i":"C10","n":1,"x":2750,"y":6350},{"i":"C10","n":1,"x":2900,"y":6320},{"i":"C10","n":1,"x":3050,"y":6300},{"i":"C10","n":1,"x":3200,"y":6280},{"i":"C10","n":1,"x":3350,"y":6300},{"i":"C10","n":1,"x":3500,"y":6270},{"i":"C10","n":1,"x":3650,"y":6290},{"i":"C10","n":1,"x":3800,"y":6260},{"i":"C10","n":1,"x":3950,"y":6280},{"i":"C10","n":1,"x":4100,"y":6250},{"i":"C10","n":1,"x":4250,"y":6270},{"i":"C10","n":1,"x":4400,"y":6240},{"i":"C10","n":1,"x":4550,"y":6260},{"i":"C10","n":1,"x":4700,"y":6280},{"i":"C10","n":1,"x":4850,"y":6250},{"i":"C10","n":1,"x":5000,"y":6261},
{"i":"C11","n":3,"x":1250,"y":6750},{"i":"C11","n":3,"x":1330,"y":6660},{"i":"C11","n":3,"x":1400,"y":6680},{"i":"C11","n":3,"x":1500,"y":6640},{"i":"C11","n":3,"x":1560,"y":6660},{"i":"C11","n":3,"x":1650,"y":6700},{"i":"C11","n":3,"x":1750,"y":6740},{"i":"C11","n":3,"x":1850,"y":6720},{"i":"C11","n":3,"x":1950,"y":6760},{"i":"C11","n":3,"x":2050,"y":6740},{"i":"C11","n":3,"x":2150,"y":6780},{"i":"C11","n":3,"x":2250,"y":6720},{"i":"C11","n":3,"x":2300,"y":6700},{"i":"C11","n":3,"x":2400,"y":6740},{"i":"C11","n":3,"x":2500,"y":6710},{"i":"C11","n":3,"x":2600,"y":6690},{"i":"C11","n":3,"x":2700,"y":6660},{"i":"C11","n":3,"x":2800,"y":6640},{"i":"C11","n":3,"x":2900,"y":6660},{"i":"C11","n":3,"x":3000,"y":6620},{"i":"C11","n":3,"x":3100,"y":6600},{"i":"C11","n":3,"x":3200,"y":6620},{"i":"C11","n":3,"x":3300,"y":6600},{"i":"C11","n":3,"x":3400,"y":6640},{"i":"C11","n":3,"x":3500,"y":6610},{"i":"C11","n":3,"x":3600,"y":6580},{"i":"C11","n":3,"x":3700,"y":6560},{"i":"C11","n":3,"x":3800,"y":6590},{"i":"C11","n":3,"x":3900,"y":6570},{"i":"C11","n":3,"x":4000,"y":6600},{"i":"C11","n":3,"x":4100,"y":6580},{"i":"C11","n":3,"x":4200,"y":6610},{"i":"C11","n":3,"x":4300,"y":6590},{"i":"C11","n":3,"x":4400,"y":6620},{"i":"C11","n":3,"x":4500,"y":6600},{"i":"C11","n":3,"x":4600,"y":6630},{"i":"C11","n":3,"x":4700,"y":6610},{"i":"C11","n":3,"x":4800,"y":6650},{"i":"C11","n":3,"x":4900,"y":6630},{"i":"C11","n":3,"x":5000,"y":6643},
{"i":"D1","n":1,"x":2500,"y":6580},{"i":"D1","n":1,"x":2650,"y":6540},{"i":"D1","n":1,"x":2800,"y":6520},{"i":"D1","n":1,"x":2950,"y":6500},{"i":"D1","n":1,"x":3100,"y":6470},{"i":"D1","n":1,"x":3250,"y":6490},{"i":"D1","n":1,"x":3400,"y":6460},{"i":"D1","n":1,"x":3550,"y":6430},{"i":"D1","n":1,"x":3700,"y":6450},{"i":"D1","n":1,"x":3850,"y":6420},{"i":"D1","n":1,"x":4000,"y":6400},{"i":"D1","n":1,"x":4150,"y":6420},{"i":"D1","n":1,"x":4300,"y":6390},{"i":"D1","n":1,"x":4450,"y":6410},{"i":"D1","n":1,"x":4600,"y":6380},{"i":"D1","n":1,"x":4750,"y":6400},{"i":"D1","n":1,"x":4900,"y":6370},{"i":"D1","n":1,"x":5000,"y":6380},
{"i":"D2","n":1,"x":2650,"y":6430},{"i":"D2","n":1,"x":2800,"y":6380},{"i":"D2","n":1,"x":2950,"y":6360},{"i":"D2","n":1,"x":3100,"y":6330},{"i":"D2","n":1,"x":3250,"y":6310},{"i":"D2","n":1,"x":3400,"y":6280},{"i":"D2","n":1,"x":3550,"y":6260},{"i":"D2","n":1,"x":3700,"y":6240},{"i":"D2","n":1,"x":3850,"y":6260},{"i":"D2","n":1,"x":4000,"y":6230},{"i":"D2","n":1,"x":4150,"y":6210},{"i":"D2","n":1,"x":4300,"y":6230},{"i":"D2","n":1,"x":4450,"y":6200},{"i":"D2","n":1,"x":4600,"y":6180},{"i":"D2","n":1,"x":4750,"y":6200},{"i":"D2","n":1,"x":4900,"y":6170},{"i":"D2","n":1,"x":5000,"y":6187},
{"i":"D3","n":1,"x":2750,"y":6330},{"i":"D3","n":1,"x":2900,"y":6280},{"i":"D3","n":1,"x":3050,"y":6250},{"i":"D3","n":1,"x":3200,"y":6220},{"i":"D3","n":1,"x":3350,"y":6200},{"i":"D3","n":1,"x":3500,"y":6180},{"i":"D3","n":1,"x":3650,"y":6160},{"i":"D3","n":1,"x":3800,"y":6180},{"i":"D3","n":1,"x":3950,"y":6150},{"i":"D3","n":1,"x":4100,"y":6170},{"i":"D3","n":1,"x":4250,"y":6140},{"i":"D3","n":1,"x":4400,"y":6120},{"i":"D3","n":1,"x":4550,"y":6140},{"i":"D3","n":1,"x":4700,"y":6110},{"i":"D3","n":1,"x":4850,"y":6130},{"i":"D3","n":1,"x":5000,"y":6130},
{"i":"D4","n":1,"x":2850,"y":6230},{"i":"D4","n":1,"x":3000,"y":6180},{"i":"D4","n":1,"x":3150,"y":6150},{"i":"D4","n":1,"x":3300,"y":6130},{"i":"D4","n":1,"x":3450,"y":6110},{"i":"D4","n":1,"x":3600,"y":6090},{"i":"D4","n":1,"x":3750,"y":6070},{"i":"D4","n":1,"x":3900,"y":6090},{"i":"D4","n":1,"x":4050,"y":6060},{"i":"D4","n":1,"x":4200,"y":6080},{"i":"D4","n":1,"x":4350,"y":6050},{"i":"D4","n":1,"x":4500,"y":6070},{"i":"D4","n":1,"x":4650,"y":6090},{"i":"D4","n":1,"x":4800,"y":6060},{"i":"D4","n":1,"x":5000,"y":6079},
{"i":"D5","n":1,"x":2950,"y":6130},{"i":"D5","n":1,"x":3100,"y":6080},{"i":"D5","n":1,"x":3250,"y":6050},{"i":"D5","n":1,"x":3400,"y":6030},{"i":"D5","n":1,"x":3550,"y":6000},{"i":"D5","n":1,"x":3700,"y":5990},{"i":"D5","n":1,"x":3850,"y":5970},{"i":"D5","n":1,"x":4000,"y":5990},{"i":"D5","n":1,"x":4150,"y":5960},{"i":"D5","n":1,"x":4300,"y":5980},{"i":"D5","n":1,"x":4450,"y":5950},{"i":"D5","n":1,"x":4600,"y":5970},{"i":"D5","n":1,"x":4750,"y":5940},{"i":"D5","n":1,"x":4900,"y":5960},{"i":"D5","n":1,"x":5000,"y":5959},
{"i":"D6","n":1,"x":3000,"y":6080},{"i":"D6","n":1,"x":3150,"y":6020},{"i":"D6","n":1,"x":3300,"y":5990},{"i":"D6","n":1,"x":3450,"y":5970},{"i":"D6","n":1,"x":3600,"y":5950},{"i":"D6","n":1,"x":3750,"y":5930},{"i":"D6","n":1,"x":3900,"y":5950},{"i":"D6","n":1,"x":4050,"y":5920},{"i":"D6","n":1,"x":4200,"y":5940},{"i":"D6","n":1,"x":4350,"y":5910},{"i":"D6","n":1,"x":4500,"y":5930},{"i":"D6","n":1,"x":4650,"y":5900},{"i":"D6","n":1,"x":4800,"y":5920},{"i":"D6","n":1,"x":5000,"y":5925}
],
"inset":[
{"i":"S0","n":10,"x":0,"y":8000},{"i":"S0","n":10,"x":19,"y":7981},
{"i":"S1","n":10,"x":0,"y":8001},{"i":"S1","n":10,"x":19,"y":7982},
{"i":"S2","n":5,"x":0,"y":8002},{"i":"S2","n":5,"x":19,"y":7983},
{"i":"S3","n":5,"x":0,"y":8003},{"i":"S3","n":5,"x":19,"y":7984},
{"i":"S4","n":10,"x":0,"y":8004},{"i":"S4","n":10,"x":19,"y":7985},
{"i":"S5","n":5,"x":0,"y":8005},{"i":"S5","n":5,"x":19,"y":7986},
{"i":"S7","n":5,"x":0,"y":8007},{"i":"S7","n":5,"x":19,"y":7988},
{"i":"S8","n":10,"x":0,"y":8008},{"i":"S8","n":10,"x":19,"y":7989},
{"i":"S9","n":5,"x":0,"y":8009},{"i":"S9","n":5,"x":19,"y":7990},
{"i":"S10","n":5,"x":0,"y":8010},{"i":"S10","n":5,"x":19,"y":7991},
{"i":"S11","n":5,"x":0,"y":8011},{"i":"S11","n":5,"x":19,"y":7992},
{"i":"F1","n":1,"x":0,"y":8011},{"i":"F1","n":1,"x":2,"y":8013},{"i":"F1","n":1,"x":11,"y":8004},{"i":"F1","n":1,"x":12,"y":8005},{"i":"F1","n":1,"x":13,"y":8004},{"i":"F1","n":1,"x":19,"y":7998},
{"i":"F2","n":1,"x":0,"y":8011},{"i":"F2","n":1,"x":1,"y":8010},{"i":"F2","n":1,"x":3,"y":8012},{"i":"F2","n":1,"x":11,"y":8004},{"i":"F2","n":1,"x":12,"y":8003},{"i":"F2","n":1,"x":13,"y":8004},{"i":"F2","n":1,"x":19,"y":7998},
{"i":"F3","n":1,"x":0,"y":8011},{"i":"F3","n":1,"x":2,"y":8009},{"i":"F3","n":1,"x":3,"y":8010},{"i":"F3","n":1,"x":15,"y":7998},{"i":"F3","n":1,"x":16,"y":7999},{"i":"F3","n":1,"x":19,"y":7996},
{"i":"F4","n":3,"x":0,"y":8010},{"i":"F4","n":3,"x":2,"y":8008},{"i":"F4","n":3,"x":3,"y":8009},{"i":"F4","n":3,"x":19,"y":7993},
{"i":"F5","n":1,"x":0,"y":8005},{"i":"F5","n":1,"x":13,"y":7992},{"i":"F5","n":1,"x":14,"y":7993},{"i":"F5","n":1,"x":19,"y":7988}
],
"segs":[
{"x":-195,"y":7609,"x2":215,"y2":7609},{"x":215,"y":7609,"x2":314,"y2":7697},{"x":378,"y":7754,"x2":314,"y2":7697},
{"x":314,"y":7697,"x2":271,"y2":7682},{"x":314,"y":7697,"x2":300,"y2":7661},{"x":314,"y":7697,"x2":357,"y2":7711},{"x":314,"y":7697,"x2":328,"y2":7733},
{"x":470,"y":6907,"x2":916,"y2":6907},{"x":916,"y":6907,"x2":1021,"y2":6998},{"x":1085,"y":7051,"x2":1021,"y2":6998},
{"x":1021,"y":6998,"x2":978,"y2":6984},{"x":1021,"y":6998,"x2":1007,"y2":6962},{"x":1021,"y":6998,"x2":1064,"y2":7012},{"x":1021,"y":6998,"x2":1037,"y2":7034}
],
"notes":[{"t":"55 ag.","x":-161,"y":7651},{"t":"32 ag.","x":547,"y":6956}],
"box":[{"x":-39.5,"x2":56.4,"y":7962,"y2":8061.5}],
"conn":[{"x":56.4,"y":8061.5,"x2":5814.6,"y2":7590.4}]
},
"hconcat":[
{"width":1296,"height":840,
 "layer":[
  {"data":{"name":"main"},"mark":{"type":"line","clip":true},
   "encoding":{
    "x":{"field":"x","type":"quantitative","scale":{"domain":[-250,5250],"nice":false,"zero":false},"axis":{"title":"Interaction round","values":[0,1000,2000,3000,4000,5000],"format":"d","titlePadding":24}},
    "y":{"field":"y","type":"quantitative","scale":{"domain":[5512,8391],"nice":false,"zero":false},"axis":{"title":"World position","values":[6000,6500,7000,7500,8000],"labelExpr":"datum.value == 8000 ? '0' : format(datum.value, 'd')","titlePadding":38}},
    "detail":{"field":"i"},
    "opacity":{"field":"n","type":"ordinal","scale":{"type":"ordinal","domain":[50,20,10,5,3,1],"range":[1,0.75,0.5,0.33,0.2,0.11]},
     "legend":{"title":"# agents","orient":"none","legendX":48,"legendY":578,"titleFont":"Liberation Sans","titleFontSize":39,"titleFontWeight":"normal","titleColor":"black","titlePadding":12,"labelFont":"Liberation Sans","labelFontSize":30,"labelColor":"black","labelAlign":"right","labelOffset":44,"symbolOffset":8,"symbolType":"stroke","symbolSize":6561,"symbolStrokeWidth":4.5,"symbolStrokeColor":"#0000ff","clipHeight":30.6,"rowPadding":0,"padding":0}}
   }},
  {"data":{"name":"box"},"mark":{"type":"rect","filled":false,"stroke":"black","strokeWidth":2.5},
   "encoding":{"x":{"field":"x","type":"quantitative"},"x2":{"field":"x2"},"y":{"field":"y","type":"quantitative"},"y2":{"field":"y2"}}},
  {"data":{"name":"conn"},"mark":{"type":"rule","color":"black","strokeWidth":2.5},
   "encoding":{"x":{"field":"x","type":"quantitative"},"x2":{"field":"x2"},"y":{"field":"y","type":"quantitative"},"y2":{"field":"y2"}}},
  {"data":{"name":"segs"},"mark":{"type":"rule","color":"black","strokeWidth":2},
   "encoding":{"x":{"field":"x","type":"quantitative"},"x2":{"field":"x2"},"y":{"field":"y","type":"quantitative"},"y2":{"field":"y2"}}},
  {"data":{"name":"notes"},"mark":{"type":"text","font":"Liberation Sans","fontSize":30,"align":"left","baseline":"alphabetic","color":"black"},
   "encoding":{"x":{"field":"x","type":"quantitative"},"y":{"field":"y","type":"quantitative"},"text":{"field":"t"}}}
 ]},
{"bounds":"flush","spacing":133.5,
 "vconcat":[
  {"width":338,"height":100,"data":{"values":[]},"mark":{"type":"rule","opacity":0},"encoding":{},"view":{"stroke":null}},
  {"width":338,"height":569,"data":{"name":"inset"},"mark":{"type":"line","clip":true},
   "encoding":{
    "x":{"field":"x","type":"quantitative","scale":{"domain":[-1,21],"nice":false,"zero":false},"axis":{"title":null,"values":[0,10,20]}},
    "y":{"field":"y","type":"quantitative","scale":{"domain":[7978.7,8014.7],"nice":false,"zero":false},"axis":{"title":null,"values":[7980,7990,8000,8010],"labelExpr":"datum.value >= 8000 ? format(datum.value - 8000, 'd') : format(datum.value, 'd')"}},
    "detail":{"field":"i"},
    "opacity":{"field":"n","type":"ordinal","scale":{"type":"ordinal","domain":[50,20,10,5,3,1],"range":[1,0.75,0.5,0.33,0.2,0.11]},"legend":null}
   }}
 ]}
]
}
